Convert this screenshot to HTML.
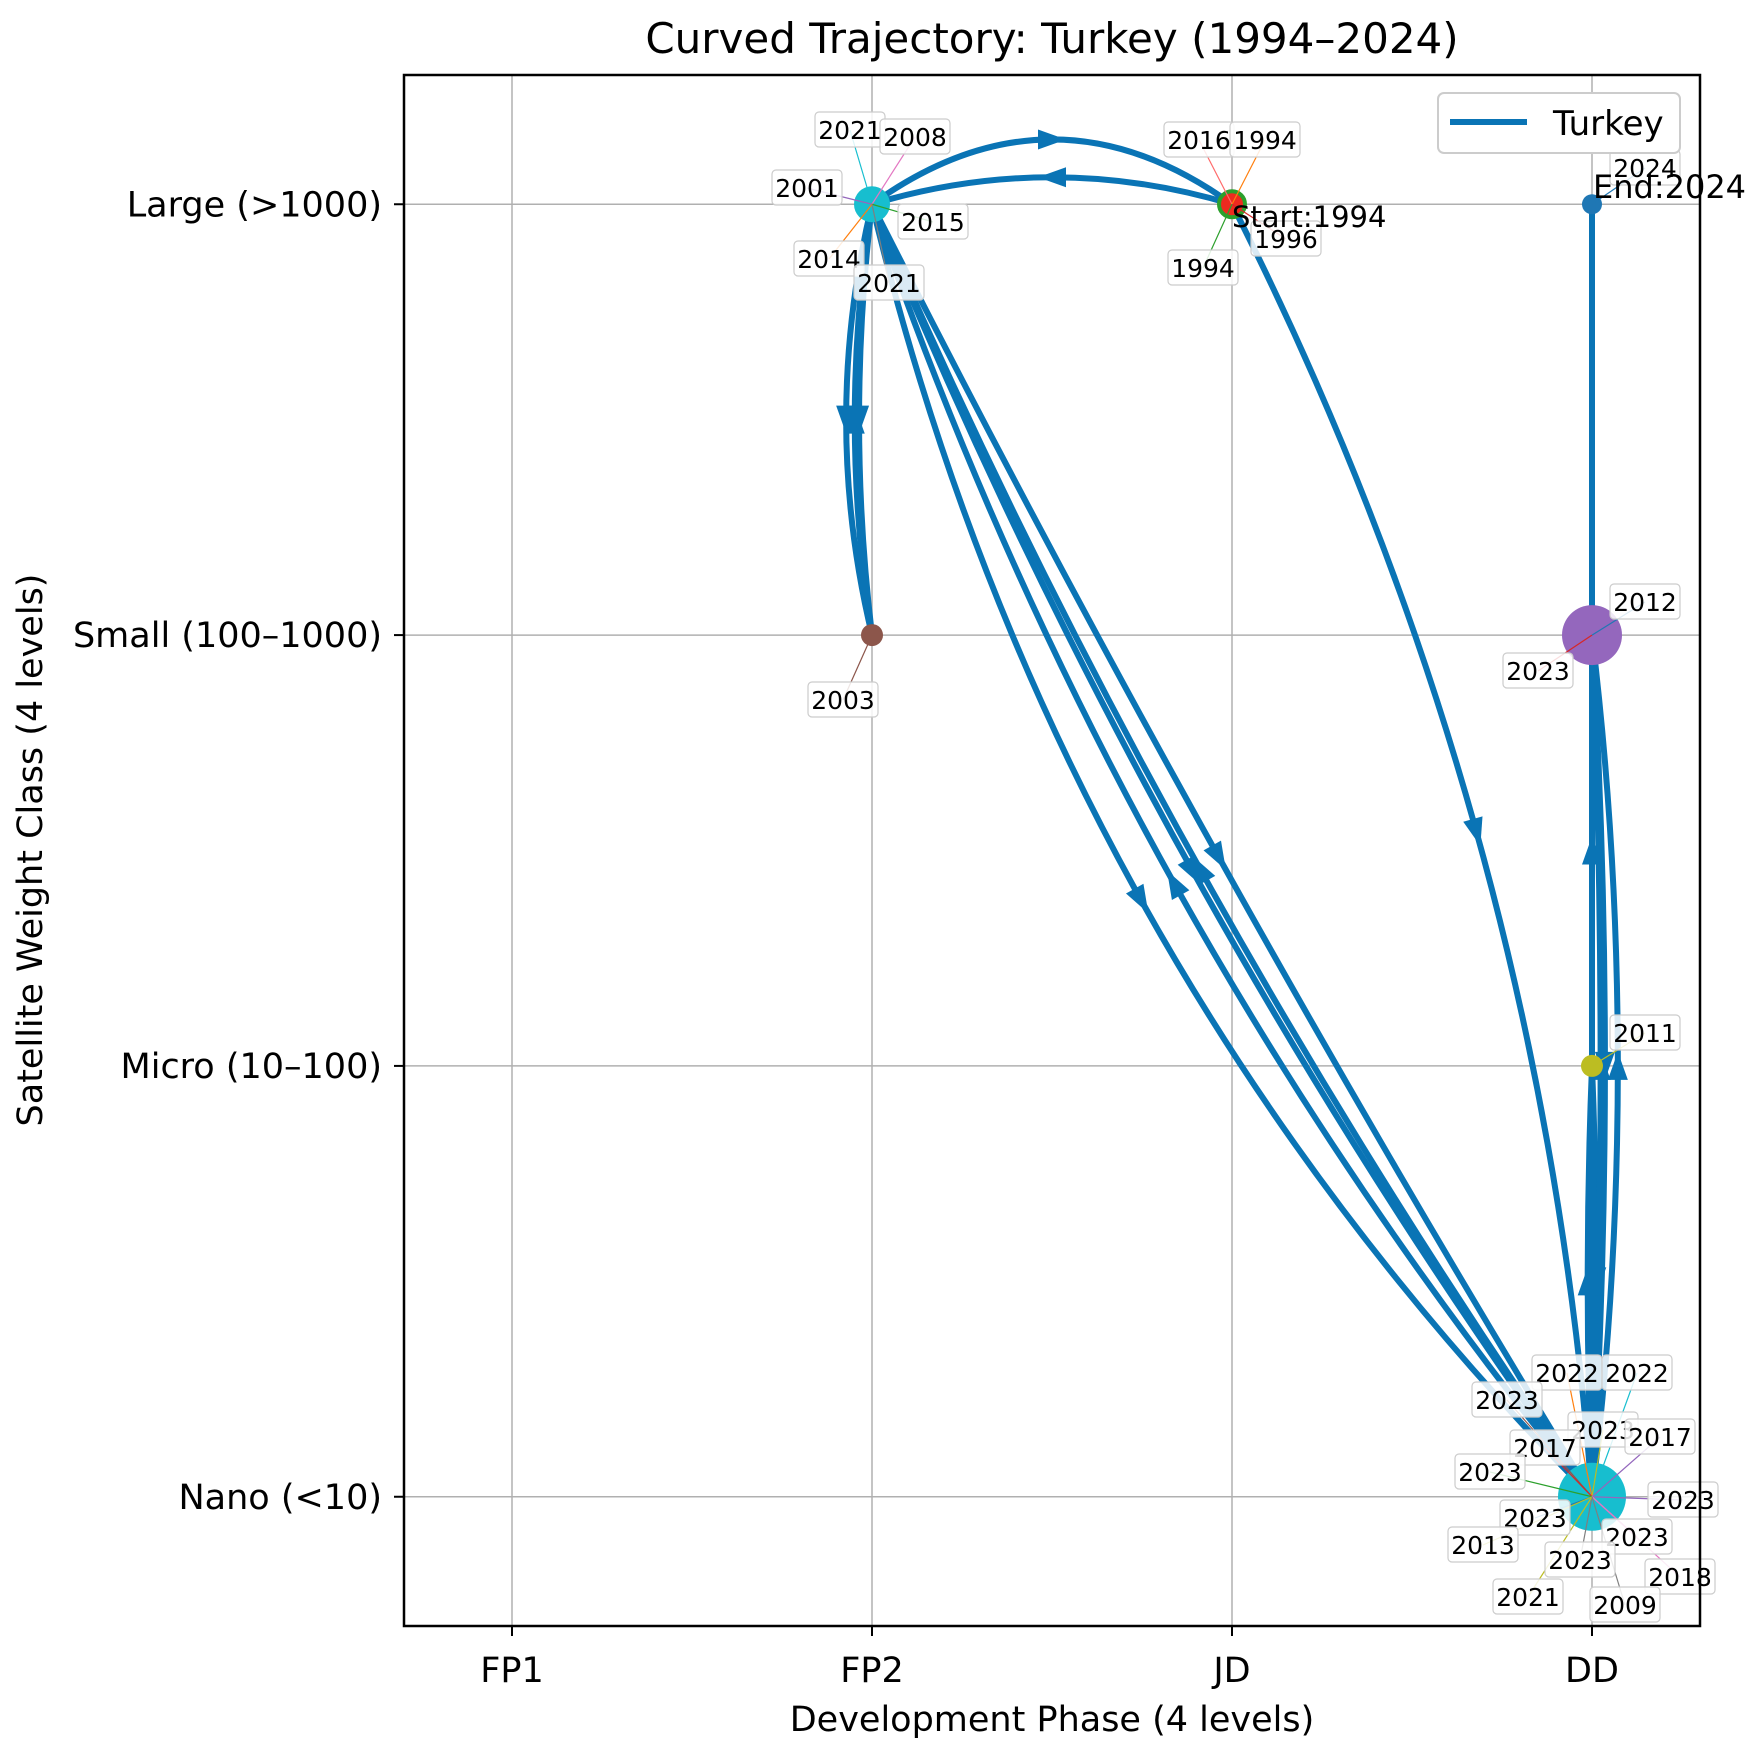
<!DOCTYPE html>
<html><head><meta charset="utf-8"><style>
body{margin:0;background:#fff}
svg text{font-family:"DejaVu Sans","Liberation Sans",sans-serif}
</style></head><body>
<svg id="chart" width="1760" height="1751" viewBox="0 0 1760 1751" xmlns="http://www.w3.org/2000/svg">
<rect width="1760" height="1751" fill="#fff"/>
<text x="1052" y="53" font-size="42" text-anchor="middle">Curved Trajectory: Turkey (1994–2024)</text>
<g id="grid"></g>
<g id="curves"></g>
<g id="markers"></g>
<g id="labels"></g>
<rect x="404" y="75" width="1296" height="1551" fill="none" stroke="#000" stroke-width="2.5"/>
<g id="ticks"></g>
<text x="1052" y="1731" font-size="35" text-anchor="middle">Development Phase (4 levels)</text>
<text transform="translate(42,850) rotate(-90)" font-size="35" text-anchor="middle">Satellite Weight Class (4 levels)</text>
<g>
<rect x="1438" y="93" width="242" height="60" rx="6" fill="#fff" stroke="#ccc" stroke-width="2"/>
<line x1="1450" y1="122" x2="1527" y2="122" stroke="#0a74b5" stroke-width="6"/>
<text x="1553" y="135" font-size="34">Turkey</text>
</g>
</svg>
<script>
const phases=["FP1","FP2","JD","DD"];
const weights=["Nano (<10)","Micro (10–100)","Small (100–1000)","Large (>1000)"];
// trajectory steps: from phase/weight to phase/weight, curve rad
const segFromX=[2,1,2,1,1,1,1,3,3,1,3,3,3,1,3,3,3,3];
const segFromY=[3,3,3,3,2,3,3,0,0,3,0,2,0,3,1,0,0,0];
const segToX  =[1,2,3,1,1,1,3,1,3,3,1,3,3,3,3,3,3,3];
const segToY  =[3,3,0,2,3,2,0,3,2,0,3,0,1,0,0,2,1,3];
const segRad  =[-0.15,0.36,0.1,-0.12,0.08,-0.06,-0.14,0.05,-0.06,-0.02,0.09,0.03,0.02,-0.06,0.02,-0.02,-0.01,0];
// markers
const mX=[2,1,3,3,3,3,1];
const mY=[3,3,3,2,1,0,2];
const mR=[13,18,10,30,11,34,11];
const mC=["#ee2a1f","#17becf","#1f77b4","#9467bd","#bcbd22","#17becf","#8c564b"];
// year annotations
const labYears=["2021","2008","2001","2015","2014","2021","2016","1994","1996","1994","2024","2012","2023","2003","2011","2022","2022","2023","2023","2017","2017","2023","2023","2023","2013","2023","2023","2018","2021","2009"];
const labPX=[850,915,807,933,829,889,1199,1265,1286,1203,1645,1645,1538,843,1645,1567,1637,1507,1603,1660,1545,1490,1683,1535,1483,1637,1580,1680,1528,1625];
const labPY=[130,137,188,222,259,283,140,140,239,268,168,602,671,700,1033,1373,1373,1400,1430,1437,1448,1472,1500,1518,1545,1537,1560,1577,1597,1605];
const labPtX=[1,1,1,1,1,1,2,2,2,2,3,3,3,1,3,3,3,3,3,3,3,3,3,3,3,3,3,3,3,3];
const labPtY=[3,3,3,3,3,3,3,3,3,3,3,2,2,2,1,0,0,0,0,0,0,0,0,0,0,0,0,0,0,0];
const labCol=["#17becf","#e377c2","#9467bd","#2ca02c","#ff7f0e","#7f7f7f","#ff6b6b","#ff7f0e","#d62728","#2ca02c","#1f77b4","#1f77b4","#d62728","#8c564b","#bcbd22","#ff7f0e","#17becf","#8c564b","#bcbd22","#9467bd","#d62728","#2ca02c","#9467bd","#1f77b4","#bcbd22","#e377c2","#7f7f7f","#e377c2","#bcbd22","#7f7f7f"];

const X0=404,X1=1700,Y0=1626,Y1=75,lo=-0.3,hi=3.3;
const sx=v=>X0+(v-lo)/(hi-lo)*(X1-X0);
const sy=v=>Y0-(v-lo)/(hi-lo)*(Y0-Y1);
const NS="http://www.w3.org/2000/svg";
function mk(tag,attrs,parent){const e=document.createElementNS(NS,tag);for(const k in attrs)e.setAttribute(k,attrs[k]);parent.appendChild(e);return e;}
const grid=document.getElementById('grid'),ticks=document.getElementById('ticks');
phases.forEach((p,i)=>{
  const g=mk('line',{x1:sx(i),x2:sx(i),y1:Y1,y2:Y0,stroke:'#b0b0b0','stroke-width':1.5},grid);
  
  
  mk('line',{x1:sx(i),x2:sx(i),y1:Y0,y2:Y0+10,stroke:'#000','stroke-width':2},ticks);
  const t=mk('text',{x:sx(i),y:1682,'font-size':35,'text-anchor':'middle'},ticks);t.textContent=p;
  
  
});
weights.forEach((w,i)=>{
  const g=mk('line',{x1:X0,x2:X1,y1:sy(i),y2:sy(i),stroke:'#b0b0b0','stroke-width':1.5},grid);
  
  
  mk('line',{x1:X0-10,x2:X0,y1:sy(i),y2:sy(i),stroke:'#000','stroke-width':2},ticks);
  const t=mk('text',{x:X0-22,y:sy(i)+12,'font-size':35,'text-anchor':'end'},ticks);t.textContent=w;
  
  
});
const cg=document.getElementById('curves');
const col="#0a74b5";
for(let i=0;i<segFromX.length;i++){
  const x1=sx(segFromX[i]),y1=sy(segFromY[i]),x2=sx(segToX[i]),y2=sy(segToY[i]);
  const dx=x2-x1,dy=y2-y1,r=segRad[i];
  const cx=(x1+x2)/2+r*dy,cy=(y1+y2)/2-r*dx;
  const p=mk('path',{d:`M${x1},${y1} Q${cx},${cy} ${x2},${y2}`,fill:'none',stroke:col,'stroke-width':6},cg);
  
  
  const t=0.5,mx=(1-t)*(1-t)*x1+2*t*(1-t)*cx+t*t*x2,my=(1-t)*(1-t)*y1+2*t*(1-t)*cy+t*t*y2;
  const tx=2*(1-t)*(cx-x1)+2*t*(x2-cx),ty=2*(1-t)*(cy-y1)+2*t*(y2-cy);
  const a=Math.atan2(ty,tx)*180/Math.PI;
  const ar=mk('polygon',{points:"14,0 -14,-10 -14,10",fill:col,transform:`translate(${mx},${my}) rotate(${a})`},cg);
  
  
}
const mg=document.getElementById('markers');
for(let i=0;i<mX.length;i++){
  const c=mk('circle',{cx:sx(mX[i]),cy:sy(mY[i]),r:mR[i],fill:mC[i]},mg);
  if(i===0){c.setAttribute('stroke','#2ca02c');c.setAttribute('stroke-width',4);}
  
  
}
const lg=document.getElementById('labels');
for(let i=0;i<labYears.length;i++){
  const px=sx(labPtX[i]),py=sy(labPtY[i]);
  mk('line',{x1:px,y1:py,x2:labPX[i],y2:labPY[i],stroke:labCol[i],'stroke-width':1.2},lg);
}
for(let i=0;i<labYears.length;i++){
  const g=mk('g',{},lg);
  
  
  mk('rect',{x:labPX[i]-35,y:labPY[i]-18,width:70,height:35,rx:4,fill:'#fff','fill-opacity':0.85,stroke:'#ccc','stroke-width':1.2},g);
  const t=mk('text',{x:labPX[i],y:labPY[i]+9,'font-size':25,'text-anchor':'middle'},g);t.textContent=labYears[i];
}
const st=mk('text',{x:1232,y:227,'font-size':29},lg);st.textContent="Start:1994";


const en=mk('text',{x:1593,y:198,'font-size':32},lg);en.textContent="End:2024";


</script>
</body></html>
